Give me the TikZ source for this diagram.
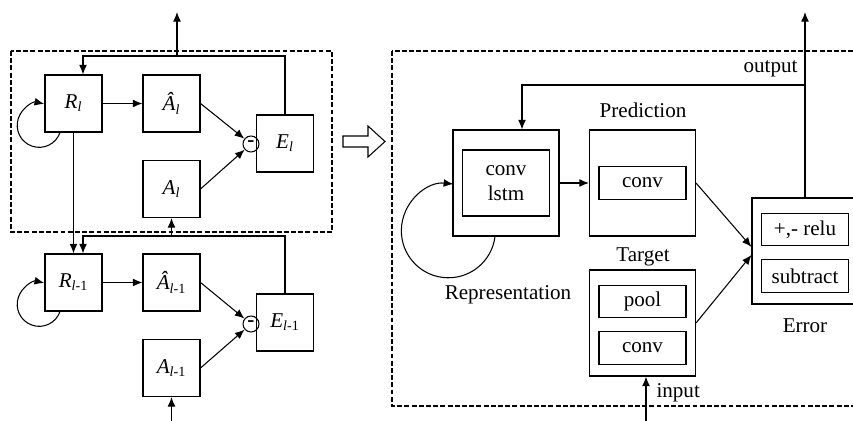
\documentclass[tikz,border=0pt]{standalone}
\usepackage{fontspec}
\setmainfont{Liberation Serif}
\usetikzlibrary{positioning,arrows.meta}

\newcommand{\sym}[2]{\textit{#1}\textsubscript{#2}}

\begin{document}
\begin{tikzpicture}
    [x=0.02cm,y=0.02cm,line width=0.6pt,
     >={Latex[length=5.5pt,width=4.5pt]},
     font=\fontsize{12}{14}\selectfont,
     unit/.style={rectangle,draw,minimum width=1.14cm,minimum height=1.14cm,inner sep=0pt},
     diff/.style={circle,draw,minimum size=0.32cm,inner sep=0pt},
     block/.style={rectangle,draw,minimum width=2.12cm,minimum height=2.12cm,inner sep=0pt},
     op/.style={rectangle,draw,minimum width=1.74cm,minimum height=0.65cm,inner sep=0pt},
     caption/.style={inner sep=0pt,anchor=base},
     frame/.style={draw,dash pattern=on 2.8pt off 1.3pt}]

    \path[use as bounding box,clip] (0,0) rectangle (853,-421);

    % layer l
    \draw[frame] (11,-51) rectangle (332,-232);
    \node[unit] (rl) at (73.5,-103.5) {\sym{R}{\textit{l}}};
    \node[unit] (ahl) at (171.5,-103.5) {\sym{\^A}{\textit{l}}};
    \node[unit] (al) at (171.5,-189) {\sym{A}{\textit{l}}};
    \node[unit] (el) at (285,-143.5) {\sym{E}{\textit{l}}};
    \node[diff] (dl) at (251,-144) {\textbf{-}};

    % layer l-1
    \node[unit] (rl1) at (73.5,-282.5) {\sym{R}{\textit{l}-1}};
    \node[unit] (ahl1) at (171.5,-282.5) {\sym{\^A}{\textit{l}-1}};
    \node[unit] (al1) at (171.5,-368) {\sym{A}{\textit{l}-1}};
    \node[unit] (el1) at (285,-322.5) {\sym{E}{\textit{l}-1}};
    \node[diff] (dl1) at (251,-324) {\textbf{-}};

    \coordinate (fbl) at (83,-56);
    \coordinate (outl) at (177,-12);
    \coordinate (fbl1) at (83,-236);
    \coordinate (inl) at (171.5,-425);

    \draw[->] (rl) -- (ahl);
    \draw[->] (ahl.east) -- (dl);
    \draw[->] (al.east) -- (dl);
    \draw[->] (el.north) |- (fbl) -- (fbl |- rl.north);
    \draw[->] (outl |- fbl) -- (outl);
    \draw[->] ([xshift=-0.27cm]rl.south) arc[start angle=-19,end angle=-283,radius=22];
    \draw[->] (rl) -- (rl1);

    \draw[->] (rl1) -- (ahl1);
    \draw[->] (ahl1.east) -- (dl1);
    \draw[->] (al1.east) -- (dl1);
    \draw[->] (el1.north) |- (fbl1) -- (fbl1 |- rl1.north);
    \draw[->] (al.south |- fbl1) -- (al.south);
    \draw[->] ([xshift=-0.27cm]rl1.south) arc[start angle=-19,end angle=-283,radius=22];
    \draw[->] (inl) -- (al1);

    % expands to
    \draw (343,-136) -- (368,-136) -- (368,-126) -- (385,-141.5)
      -- (368,-157) -- (368,-147) -- (343,-147) -- cycle;

    % inside one layer
    \draw[frame] (392,-51) rectangle (880,-406);
    \node[block] (rep) at (506,-183) {};
    \node[op,minimum height=1.32cm,align=center] (lstm) at (rep) {conv\\lstm};
    \node[block] (pred) at (642.5,-183) {};
    \node[op] (pconv) at (pred) {conv};
    \node[block] (targ) at (642.5,-323) {};
    \node[op] (pool) at (642.5,-301.5) {pool};
    \node[op] (tconv) at (642.5,-348) {conv};
    \node[block] (err) at (805,-251) {};
    \node[op] (relu) at (805,-229.5) {+,- relu};
    \node[op] (sub) at (805,-276) {subtract};

    \node[caption] (predlbl) at (643,-118) {Prediction};
    \node[caption] (targlbl) at (643,-262) {Target};
    \node[caption] (replbl) at (508,-300) {Representation};
    \node[caption] (errlbl) at (805,-333) {Error};
    \node[caption,anchor=base east] (outlbl) at (798,-72.5) {output};
    \node[caption,anchor=base west] (inlbl) at (656,-397.5) {input};

    \coordinate (fbr) at (522,-85);
    \coordinate (outr) at (805,-12);
    \coordinate (inr) at (646,-425);

    \draw[->] (rep) -- (pred);
    \draw[->] (pred.east) -- ([yshift=0.08cm]err.west);
    \draw[->] (targ.east) -- ([yshift=-0.08cm]err.west);
    \draw[->] (err.north) |- (fbr) -- (fbr |- rep.north);
    \draw[->] (err.north) -- (outr);
    \draw[->] (inr) -- (inr |- targ.south);
    \draw[->] ([xshift=-0.22cm]rep.south) arc[start angle=-7,end angle=-276,radius=47];
\end{tikzpicture}
\end{document}
